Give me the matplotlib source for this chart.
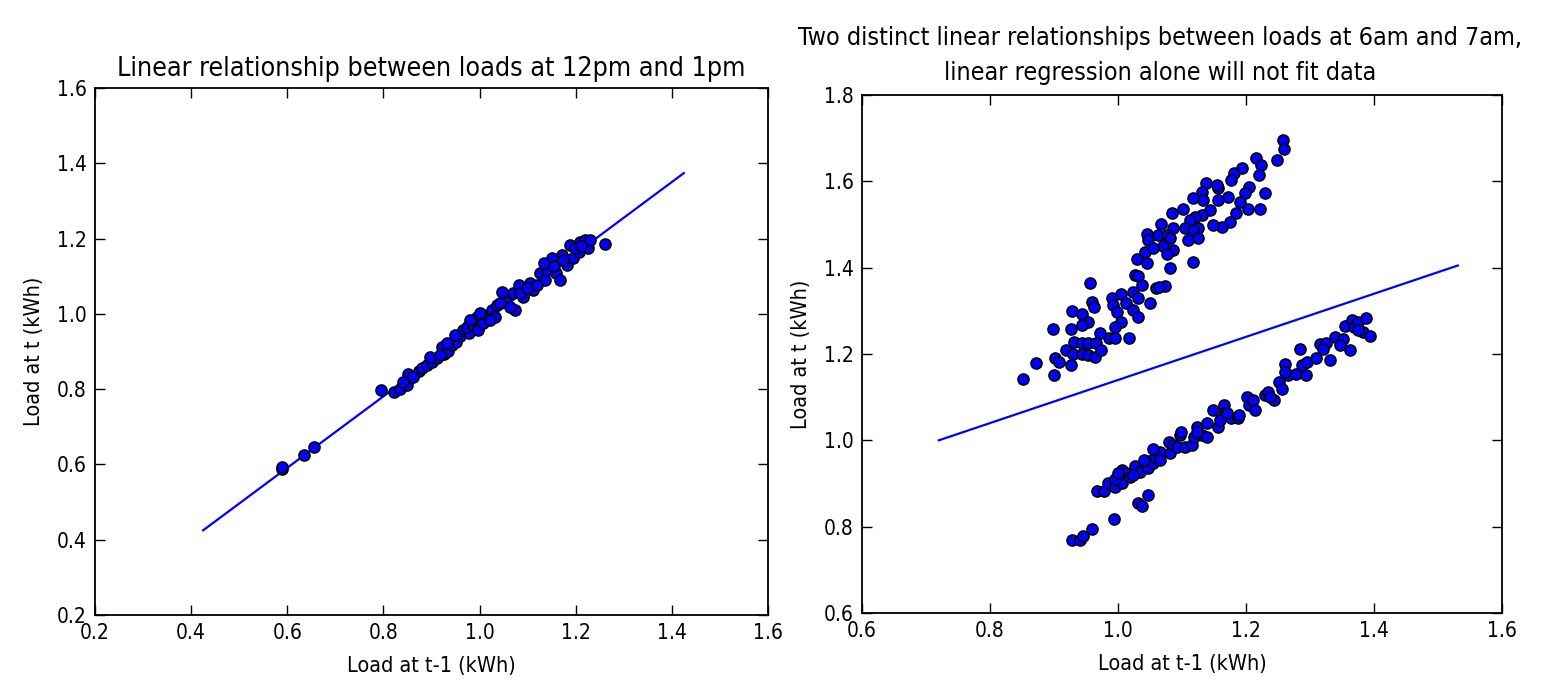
import matplotlib
matplotlib.use("Agg")
import matplotlib.pyplot as plt
import numpy as np

plt.rcParams['font.family'] = ['DejaVu Sans']
plt.rcParams['font.stretch'] = 'condensed'

# ---- Left panel data: loads at 12pm (t-1) vs 1pm (t) ----
left_x = [0.588, 0.590, 0.635, 0.656,
          0.794, 0.821, 0.834, 0.848, 0.852, 0.841, 0.873, 0.880, 0.890, 0.900,
          0.911, 0.921, 0.925, 0.935, 0.942, 0.952, 0.959, 0.966, 0.977, 0.973,
          0.987, 0.994, 0.997, 1.008, 1.015, 1.025, 1.036, 1.032, 1.046, 1.056,
          1.070, 1.074, 1.081, 1.091, 1.105, 1.112, 1.126, 1.136, 1.140, 1.150,
          1.160, 1.167, 1.171, 1.181, 1.188, 1.195, 1.206, 1.209, 1.220, 1.226,
          1.230, 1.260,
          0.862, 0.897, 0.918, 0.932, 0.949, 0.980, 1.001, 1.022, 1.043, 1.063,
          1.084, 1.098, 1.119, 1.133, 1.154, 1.174, 1.199, 1.212]
left_y = [0.587, 0.594, 0.625, 0.647,
          0.798, 0.793, 0.800, 0.811, 0.840, 0.820, 0.847, 0.855, 0.864, 0.873,
          0.882, 0.913, 0.893, 0.902, 0.917, 0.926, 0.940, 0.957, 0.948, 0.966,
          0.971, 0.991, 0.957, 0.975, 0.997, 1.010, 1.024, 0.991, 1.059, 1.032,
          1.055, 1.010, 1.077, 1.046, 1.081, 1.063, 1.108, 1.090, 1.117, 1.148,
          1.108, 1.090, 1.156, 1.130, 1.183, 1.148, 1.165, 1.192, 1.196, 1.174,
          1.196, 1.186,
          0.833, 0.886, 0.891, 0.922, 0.944, 0.984, 1.001, 0.984, 1.028, 1.019,
          1.055, 1.068, 1.077, 1.134, 1.126, 1.143, 1.174, 1.179]
left_fit_x = [0.425, 1.425]
left_fit_y = [0.425, 1.374]

# ---- Right panel data: loads at 6am (t-1) vs 7am (t) ----
upper_x = [1.258, 1.259, 1.249, 1.216, 1.223, 1.193, 1.182, 1.177, 1.220, 1.205,
           1.230, 1.198, 1.190, 1.222, 1.203, 1.185, 1.175, 1.163, 1.172, 1.157,
           1.138, 1.154, 1.131, 1.133, 1.117, 1.157, 1.143, 1.131, 1.121, 1.149,
           1.125, 1.112, 1.101, 1.084, 1.105, 1.117, 1.125, 1.110, 1.117, 1.086,
           1.067, 1.063, 1.076, 1.081, 1.071, 1.086, 1.076, 1.045, 1.047, 1.042,
           1.055, 1.029, 1.046, 1.081, 1.027, 1.032, 1.038, 1.059, 1.073, 1.064,
           1.024, 1.032, 1.050, 1.004, 0.990, 0.992, 0.998, 1.012, 1.024, 1.031,
           1.005, 0.995, 0.986, 0.995, 1.017, 0.957, 0.960, 0.963, 0.928, 0.944,
           0.953, 0.926, 0.898, 0.943, 0.932, 0.943, 0.953, 0.972, 0.966, 0.919,
           0.930, 0.943, 0.953, 0.964, 0.974, 0.901, 0.908, 0.927, 0.872, 0.900,
           0.852]
upper_y = [1.696, 1.676, 1.649, 1.653, 1.638, 1.630, 1.620, 1.603, 1.615, 1.588,
           1.574, 1.572, 1.553, 1.537, 1.535, 1.526, 1.506, 1.495, 1.564, 1.584,
           1.597, 1.591, 1.576, 1.557, 1.561, 1.557, 1.534, 1.522, 1.517, 1.499,
           1.491, 1.510, 1.535, 1.527, 1.491, 1.487, 1.468, 1.464, 1.414, 1.493,
           1.501, 1.476, 1.476, 1.468, 1.450, 1.441, 1.431, 1.479, 1.464, 1.437,
           1.445, 1.419, 1.410, 1.400, 1.383, 1.381, 1.361, 1.354, 1.358, 1.356,
           1.344, 1.329, 1.319, 1.339, 1.329, 1.313, 1.298, 1.319, 1.302, 1.286,
           1.275, 1.263, 1.236, 1.236, 1.236, 1.365, 1.321, 1.310, 1.300, 1.293,
           1.275, 1.259, 1.259, 1.267, 1.228, 1.225, 1.226, 1.248, 1.226, 1.209,
           1.201, 1.201, 1.198, 1.192, 1.209, 1.190, 1.182, 1.174, 1.180, 1.151,
           1.141]
lower_x = [0.928, 0.940, 0.946, 0.959, 0.993, 1.032, 1.037, 1.047, 0.967, 0.978,
           0.985, 0.995, 1.006, 0.995, 1.007, 1.012, 1.019, 1.027, 1.034, 1.045,
           1.047, 1.055, 1.058, 1.066, 1.055, 1.081, 1.079, 1.086, 1.092, 1.097,
           1.105, 1.115, 1.118, 1.123, 1.131, 1.139, 1.139, 1.149, 1.157, 1.165,
           1.167, 1.159, 1.177, 1.188, 1.189, 1.201, 1.204, 1.214, 1.211, 1.230,
           1.235, 1.243, 1.252, 1.257, 1.261, 1.266, 1.278, 1.284, 1.287, 1.294,
           1.295, 1.309, 1.315, 1.325, 1.331, 1.339, 1.352, 1.355, 1.362, 1.365,
           1.368, 1.375, 1.383, 1.388, 1.394, 1.375, 1.321, 1.347, 1.261, 1.237,
           1.170, 1.123, 1.099, 1.066, 1.040, 1.024, 1.000]
lower_y = [0.769, 0.769, 0.778, 0.794, 0.817, 0.854, 0.849, 0.873, 0.883, 0.883,
           0.902, 0.891, 0.900, 0.910, 0.931, 0.925, 0.916, 0.941, 0.927, 0.951,
           0.935, 0.947, 0.962, 0.974, 0.981, 0.971, 0.997, 0.989, 0.985, 1.012,
           0.985, 0.989, 1.008, 1.032, 1.012, 1.008, 1.041, 1.070, 1.032, 1.082,
           1.063, 1.047, 1.051, 1.051, 1.059, 1.100, 1.082, 1.070, 1.093, 1.105,
           1.113, 1.093, 1.134, 1.120, 1.177, 1.151, 1.154, 1.211, 1.175, 1.151,
           1.182, 1.190, 1.223, 1.225, 1.186, 1.239, 1.234, 1.265, 1.209, 1.279,
           1.263, 1.275, 1.252, 1.283, 1.242, 1.256, 1.211, 1.221, 1.159, 1.101,
           1.064, 1.020, 1.020, 0.954, 0.954, 0.920, 0.924]
right_fit_x = [0.72, 1.531]
right_fit_y = [1.0, 1.405]

left_ticks = [0.2, 0.4, 0.6, 0.8, 1.0, 1.2, 1.4, 1.6]
right_xticks = [0.6, 0.8, 1.0, 1.2, 1.4, 1.6]
right_yticks = [0.6, 0.8, 1.0, 1.2, 1.4, 1.6, 1.8]

W, H = 1548, 686
fig = plt.figure(figsize=(W / 100, H / 100), dpi=100, facecolor='white')

def px_axes(x0, y0, x1, y1):
    return fig.add_axes([x0 / W, 1 - y1 / H, (x1 - x0) / W, (y1 - y0) / H])

axL = px_axes(95, 88, 768, 615)
axR = px_axes(862, 95, 1502, 613)

blue = '#0000ff'
ms = 64

axL.plot(left_fit_x, left_fit_y, color=blue, lw=1.6, zorder=2)
axL.scatter(left_x, left_y, s=ms, c=blue, edgecolors='black', linewidths=1.1, zorder=3)
axL.set_xlim(0.2, 1.6)
axL.set_ylim(0.2, 1.6)
axL.set_xticks(left_ticks)
axL.set_yticks(left_ticks)
axL.set_title('Linear relationship between loads at 12pm and 1pm', fontsize=19.3, pad=9)

axR.plot(right_fit_x, right_fit_y, color=blue, lw=1.6, zorder=2)
axR.scatter(upper_x + lower_x, upper_y + lower_y, s=ms, c=blue,
            edgecolors='black', linewidths=1.1, zorder=3)
axR.set_xlim(0.6, 1.6)
axR.set_ylim(0.6, 1.8)
axR.set_xticks(right_xticks)
axR.set_yticks(right_yticks)
axR.set_title('Two distinct linear relationships between loads at 6am and 7am,\n'
              'linear regression alone will not fit data', fontsize=18, pad=11,
              x=0.466, linespacing=1.55)

for ax in (axL, axR):
    ax.set_xlabel('Load at t-1 (kWh)', fontsize=15.5, labelpad=9)
    ax.set_ylabel('Load at t (kWh)', fontsize=15.5, labelpad=9)
    ax.tick_params(direction='in', top=True, right=True, length=7, width=1,
                   labelsize=15, pad=6, color='black')
    for sp in ax.spines.values():
        sp.set_linewidth(1.3)
        sp.set_color('black')
    ax.xaxis.set_major_formatter(matplotlib.ticker.FormatStrFormatter('%.1f'))
    ax.yaxis.set_major_formatter(matplotlib.ticker.FormatStrFormatter('%.1f'))

fig.savefig('out.png', dpi=100, facecolor='white')
